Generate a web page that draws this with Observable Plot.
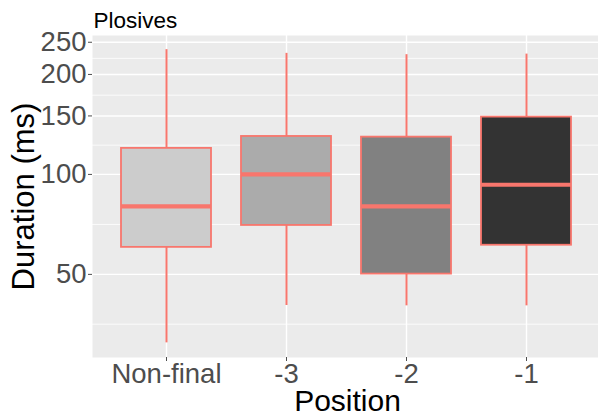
<!DOCTYPE html>
<html>
<head>
<meta charset="utf-8">
<script src="https://cdn.jsdelivr.net/npm/d3@7"></script>
<script src="https://cdn.jsdelivr.net/npm/@observablehq/plot@0.6"></script>
<style>
  html, body { margin: 0; padding: 0; background: #fff; }
  svg { display: block; }
</style>
</head>
<body>
<div id="chart"></div>
<script>
// ---- data ----
const positions   = ["Non-final", "-3", "-2", "-1"];
const whiskerLow  = [31.1, 40.3, 40.2, 40.2];
const q1          = [60.3, 70.2, 50.1, 61.2];
const median      = [80.1, 100.0, 80.1, 93.1];
const q3          = [119.8, 130.1, 129.5, 148.8];
const whiskerHigh = [237.5, 231.5, 229.4, 230.3];

const yTicks      = [50, 100, 150, 200, 250];
const yMinorTicks = [35.4, 70.7, 122.5, 173.2, 223.6];

const titleText = "Plosives";
const xLabel = "Position";
const yLabel = "Duration (ms)";

// ---- styling ----
const greyFills = ["#CCCCCC", "#ABABAB", "#818181", "#333333"];
const boxColor = "#F8766D";
const font = "'Liberation Sans', Arial, sans-serif";

const rows = positions.map((p, i) => ({
  pos: p, lo: whiskerLow[i], q1: q1[i], med: median[i], q3: q3[i], hi: whiskerHigh[i]
}));

const chart = Plot.plot({
  width: 598,
  height: 417,
  marginLeft: 92,
  marginRight: 0,
  marginTop: 35,
  marginBottom: 60,
  style: { fontFamily: font, background: "#fff" },
  x: { type: "band", domain: positions, range: [92, 600], paddingInner: 0.25, paddingOuter: 0.225, axis: null },
  y: { type: "log", domain: [28.1, 262], axis: null },
  color: { domain: positions, range: greyFills },
  marks: [
    Plot.frame({ fill: "#EBEBEB", stroke: null }),
    Plot.ruleY(yMinorTicks, { stroke: "#fff", strokeWidth: 0.8 }),
    Plot.ruleY(yTicks, { stroke: "#fff", strokeWidth: 1.4 }),
    Plot.ruleX(positions, { x: d => d, stroke: "#fff", strokeWidth: 1.4 }),
    Plot.ruleX(rows, { x: "pos", y1: "q3", y2: "hi", stroke: boxColor, strokeWidth: 2 }),
    Plot.ruleX(rows, { x: "pos", y1: "lo", y2: "q1", stroke: boxColor, strokeWidth: 2 }),
    Plot.barY(rows, { x: "pos", y1: "q1", y2: "q3", fill: "pos", stroke: boxColor, strokeWidth: 1.8 }),
    Plot.tickY(rows, { x: "pos", y: "med", stroke: boxColor, strokeWidth: 4.2 }),
    Plot.axisY({ ticks: yTicks, tickSize: 4, tickPadding: 2, tickFormat: d => String(d),
      fontSize: 27.5, color: "#4D4D4D", label: null }),
    Plot.axisX({ tickSize: 4, tickPadding: 2, fontSize: 27.5, color: "#4D4D4D", label: null }),
    Plot.text([titleText], { frameAnchor: "top-left", dx: 1, dy: -8, lineAnchor: "bottom",
      textAnchor: "start", fontSize: 22.5, fill: "#000" }),
    Plot.text([xLabel], { frameAnchor: "bottom", dx: 2, dy: 53.5, lineAnchor: "bottom",
      textAnchor: "middle", fontSize: 30, fill: "#000" }),
    Plot.text([yLabel], { frameAnchor: "left", dx: -59, rotate: -90, lineAnchor: "bottom",
      textAnchor: "middle", fontSize: 31, fill: "#000" })
  ]
});
document.getElementById("chart").appendChild(chart);
</script>
</body>
</html>
